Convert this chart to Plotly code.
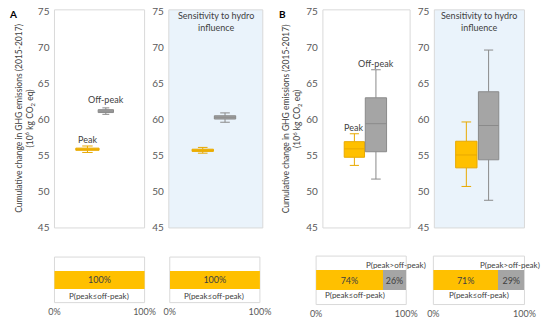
import plotly.graph_objects as go

# ---------------- data ----------------
panels = ["A", "A-hydro", "B", "B-hydro"]
series = ["Peak", "Off-peak"]

peak_q1 = [55.70, 55.55, 54.73, 53.26]
peak_median = [55.85, 55.70, 55.90, 55.05]
peak_q3 = [56.00, 55.85, 56.90, 56.96]
peak_low = [55.40, 55.30, 53.60, 50.67]
peak_high = [56.30, 56.10, 58.00, 59.64]

off_q1 = [60.95, 60.05, 55.50, 54.38]
off_median = [61.15, 60.30, 59.40, 59.15]
off_q3 = [61.35, 60.50, 63.00, 63.84]
off_low = [60.70, 59.60, 51.70, 48.75]
off_high = [61.60, 60.90, 66.90, 69.64]

p_le = [1.00, 1.00, 0.74, 0.71]   # P(peak <= off-peak)
p_gt = [0.00, 0.00, 0.26, 0.29]   # P(peak > off-peak)

yticks = [45, 50, 55, 60, 65, 70, 75]
bar_ticks = ["0%", "100%"]

# ---------------- layout helpers ----------------
W, H = 550, 327
FONT = "Lato"
TXT = "#404040"
TICK = "#595959"
ORANGE = "#FFC000"
ORANGE_L = "#E8A900"
GRAY = "#A5A5A5"
GRAY_L = "#8A8A8A"
FRAME = "#D9D9D9"
BLUE = "#EAF3FB"

box_px = [(50, 143), (168, 265), (327, 417), (442, 535)]
bar_px = [(50, 143), (169, 262), (320, 413), (441, 535)]
box_y = (5, 230)
bar_y = [(260, 307), (260, 307), (259, 309), (259, 309)]

peak_pos = [0.366, 0.361, 0.361, 0.355]
peak_w = [0.258, 0.227, 0.233, 0.237]
off_pos = [0.57, 0.598, 0.608, 0.602]
off_w = [0.17, 0.227, 0.244, 0.226]


def xd(a, b):
    return [a / W, b / W]


def yd(top, bot):
    return [1 - bot / H, 1 - top / H]


fig = go.Figure()
layout = dict(
    width=W, height=H, margin=dict(l=0, r=0, t=0, b=0),
    paper_bgcolor="white", plot_bgcolor="rgba(0,0,0,0)",
    showlegend=False, font=dict(family=FONT, size=9, color=TXT),
    barmode="stack", hovermode=False,
)
shapes, annos = [], []

for i in range(4):
    n = i + 1
    xa = f"x{n}" if n > 1 else "x"
    ya = f"y{n}" if n > 1 else "y"
    sfx = "" if n == 1 else str(n)
    layout[f"xaxis{sfx}"] = dict(domain=xd(*box_px[i]), range=[0, 1], visible=False,
                                 anchor=ya, fixedrange=True)
    layout[f"yaxis{sfx}"] = dict(domain=yd(*box_y), range=[44.9, 75.23], anchor=xa,
                                 tickvals=yticks, showgrid=False, zeroline=False,
                                 showline=False, ticks="outside", ticklen=2,
                                 tickcolor="rgba(0,0,0,0)", fixedrange=True,
                                 tickfont=dict(family=FONT, size=10, color=TICK))
    fill = BLUE if i in (1, 3) else "white"
    shapes.append(dict(type="rect", xref=f"{xa} domain", yref=f"{ya} domain",
                       x0=0, x1=1, y0=0, y1=1, fillcolor=fill,
                       line=dict(color=FRAME, width=1), layer="below"))
    fig.add_trace(go.Box(
        x=[peak_pos[i]], q1=[peak_q1[i]], median=[peak_median[i]], q3=[peak_q3[i]],
        lowerfence=[peak_low[i]], upperfence=[peak_high[i]],
        width=peak_w[i], whiskerwidth=0.45, fillcolor=ORANGE,
        line=dict(color=ORANGE_L, width=1), name=series[0],
        xaxis=xa, yaxis=ya, hoverinfo="skip"))
    fig.add_trace(go.Box(
        x=[off_pos[i]], q1=[off_q1[i]], median=[off_median[i]], q3=[off_q3[i]],
        lowerfence=[off_low[i]], upperfence=[off_high[i]],
        width=off_w[i], whiskerwidth=0.45, fillcolor=GRAY,
        line=dict(color=GRAY_L, width=1), name=series[1],
        xaxis=xa, yaxis=ya, hoverinfo="skip"))

    # bar panels
    m = i + 5
    bxa, bya = f"x{m}", f"y{m}"
    layout[f"xaxis{m}"] = dict(domain=xd(*bar_px[i]), range=[0, 1], anchor=bya,
                               tickvals=[0, 1], ticktext=bar_ticks, showgrid=False,
                               zeroline=False, showline=False, ticks="outside",
                               ticklen=1, tickcolor="rgba(0,0,0,0)", fixedrange=True,
                               tickfont=dict(family=FONT, size=9, color=TICK))
    layout[f"yaxis{m}"] = dict(domain=yd(*bar_y[i]), range=[-1, 1], visible=False,
                               anchor=bxa, fixedrange=True)
    shapes.append(dict(type="rect", xref=f"{bxa} domain", yref=f"{bya} domain",
                       x0=0, x1=1, y0=0, y1=1, fillcolor="white",
                       line=dict(color=FRAME, width=1), layer="below"))
    fig.add_trace(go.Bar(
        x=[p_le[i]], y=[0], orientation="h", width=0.81, marker=dict(color=ORANGE, line=dict(width=0)),
        text=[f"{round(p_le[i] * 100)}%"], textposition="inside", insidetextanchor="middle",
        textfont=dict(family=FONT, size=9, color=TXT), xaxis=bxa, yaxis=bya,
        hoverinfo="skip"))
    if p_gt[i] > 0:
        fig.add_trace(go.Bar(
            x=[p_gt[i]], y=[0], orientation="h", width=0.81,
            marker=dict(color=GRAY, line=dict(width=0)),
            text=[f"{round(p_gt[i] * 100)}%"], textposition="inside",
            insidetextanchor="middle",
            textfont=dict(family=FONT, size=9, color=TXT), xaxis=bxa, yaxis=bya,
            hoverinfo="skip"))

# text annotations
def px_anno(x, y, text, size=8, **kw):
    d = dict(xref="paper", yref="paper", x=x / W, y=1 - y / H, text=text,
             showarrow=False, font=dict(family=FONT, size=size, color=TXT),
             xanchor="center", yanchor="middle")
    d.update(kw)
    annos.append(d)

# panel letters
px_anno(7, 9, "<b>A</b>", font=dict(family=FONT, size=10, color="#000"))
px_anno(285, 9, "<b>B</b>", font=dict(family=FONT, size=10, color="#000"))

# y titles
ytitle = "Cumulative change in GHG emissions (2015-2017)<br>(10<sup>6</sup> kg CO<sub>2</sub> eq)"
for x in (20, 296):
    px_anno(x, 117, ytitle, size=8.5, textangle=-90)

# sensitivity labels
for (a, b) in (box_px[1], box_px[3]):
    px_anno((a + b) / 2, 17, "Sensitivity to hydro<br>influence", size=9)

# Peak / Off-peak labels (data coords)
for xa, ya, px, pyv, ox, oy in (("x", "y", 0.366, 57.2, 0.57, 62.75),
                                ("x3", "y3", 0.35, 58.85, 0.608, 67.8)):
    annos.append(dict(xref=xa, yref=ya, x=px, y=pyv, text="Peak", showarrow=False,
                      font=dict(family=FONT, size=9, color=TXT)))
    annos.append(dict(xref=xa, yref=ya, x=ox, y=oy, text="Off-peak", showarrow=False,
                      font=dict(family=FONT, size=9, color=TXT)))

# probability labels
px_anno(96, 300, "P(peak≤off-peak)", size=8)
px_anno(215, 300, "P(peak≤off-peak)", size=8)
px_anno(360, 299, "P(peak≤off-peak)", size=8)
px_anno(488, 299, "P(peak≤off-peak)", size=8)
px_anno(402, 268, "P(peak>off-peak)", size=8)
px_anno(520, 268, "P(peak>off-peak)", size=8)

layout["shapes"] = shapes
layout["annotations"] = annos
fig.update_layout(**layout)
fig.write_html("out.html", config={"displayModeBar": False, "staticPlot": True},
               post_script="document.body.style.margin='0';document.body.style.overflow='hidden';")
